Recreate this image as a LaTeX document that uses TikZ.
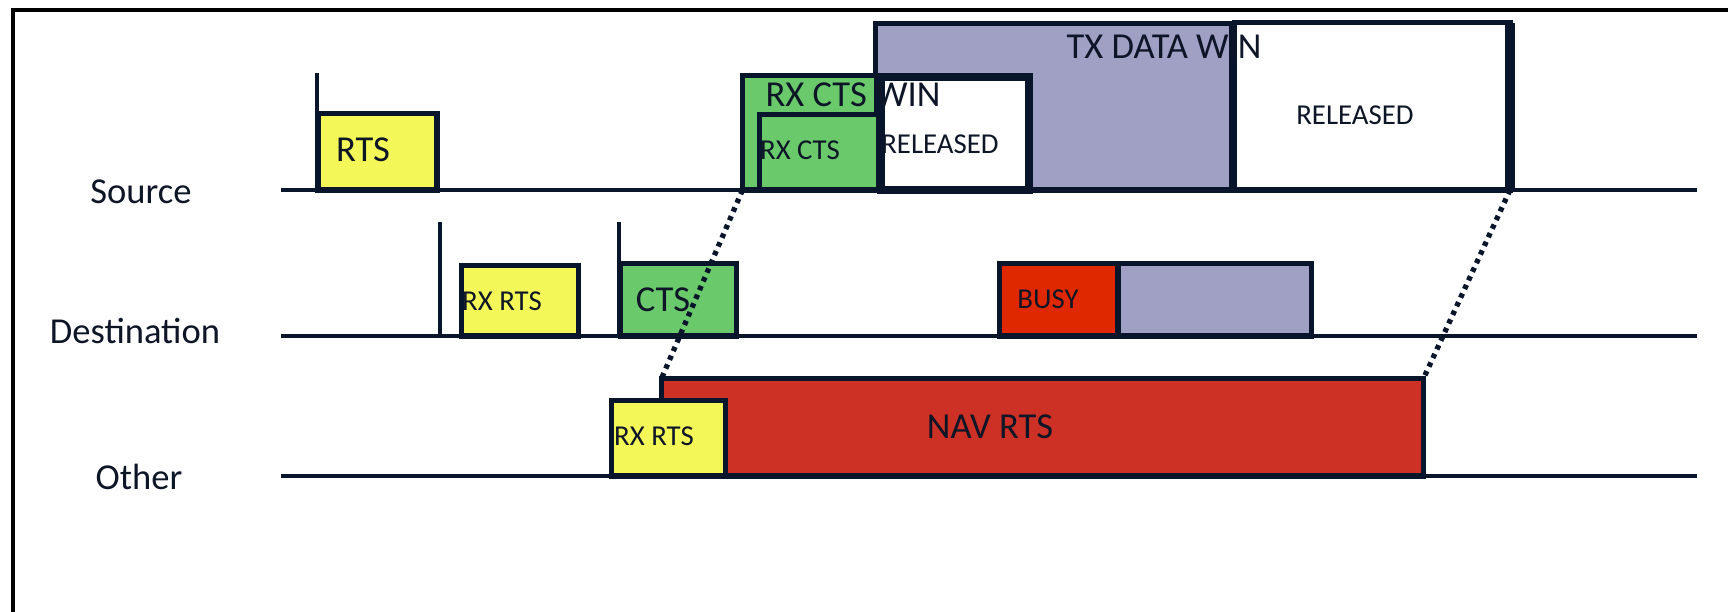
\documentclass[tikz,border=0pt]{standalone}
\usepackage{fontspec}
\setmainfont{Carlito}
\usetikzlibrary{calc}

\definecolor{navy}{HTML}{08152B}
\definecolor{ink}{HTML}{0D1526}
\definecolor{rtsyellow}{HTML}{F3F757}
\definecolor{ctsgreen}{HTML}{69C96B}
\definecolor{datapurple}{HTML}{A09FC4}
\definecolor{busyred}{HTML}{E02800}
\definecolor{navred}{HTML}{CD3024}

\begin{document}
\begin{tikzpicture}[
  x=1cm,y=1cm,
  frame/.style={line width=1.3pt, draw=black},
  timeline/.style={line width=1.4pt, draw=navy},
  tick/.style={line width=1pt, draw=navy},
  slot/.style={rectangle, draw=navy, line width=1.5pt, inner sep=0pt, outer sep=0pt, anchor=south west},
  bigtext/.style={font=\fontsize{10.4}{12}\selectfont, text=ink, inner sep=0pt},
  smalltext/.style={font=\fontsize{8.2}{10}\selectfont, text=ink, inner sep=0pt},
  navlink/.style={line width=1.5pt, draw=navy, dash pattern=on 1.3pt off 1.4pt}
]
\useasboundingbox (0,0) rectangle (17.28,-6.11);

% Outer frame (cut by the page on the right and at the bottom)
\draw[frame] (0.13,-6.4) -- (0.13,-0.10) -- (17.6,-0.10);

% Time lines
\coordinate (srcL) at (2.81,-1.90);
\coordinate (srcR) at (16.97,-1.90);
\coordinate (dstL) at (2.81,-3.36);
\coordinate (dstR) at (16.97,-3.36);
\coordinate (othL) at (2.81,-4.76);
\coordinate (othR) at (16.97,-4.76);

\node[bigtext] (source) at (1.41,-1.92) {Source};
\node[bigtext] (destination) at (1.35,-3.31) {Destination};
\node[bigtext] (other) at (1.39,-4.77) {Other};

% Source: data window and its released part
\node[slot, fill=datapurple, minimum width=3.565cm, minimum height=1.665cm] (txdata) at (8.755,-1.90) {};
\node[slot, fill=white, minimum width=2.755cm, minimum height=1.675cm] (relbig) at (12.345,-1.90) {};
\draw[line width=2.8pt, draw=navy] (relbig.north east) -- (relbig.south east);

% Source: CTS window
\node[slot, fill=ctsgreen, minimum width=1.345cm, minimum height=1.145cm] (ctswin) at (7.425,-1.90) {};
\node[slot, fill=white, line width=2.3pt, minimum width=1.48cm, minimum height=1.13cm] (relsmall) at (8.81,-1.90) {};
\node[slot, fill=ctsgreen, minimum width=1.195cm, minimum height=0.755cm] (rxcts) at (7.595,-1.90) {};

% Source: RTS
\node[slot, fill=rtsyellow, minimum width=1.19cm, minimum height=0.765cm] (rts) at (3.18,-1.90) {};
\draw[tick] (3.17,-0.73) -- (3.17,-1.90);

% Destination
\draw[tick] (4.40,-2.22) -- (4.40,-3.36);
\draw[tick] (6.19,-2.22) -- (6.19,-3.36);
\node[slot, fill=rtsyellow, minimum width=1.17cm, minimum height=0.705cm] (rxrtsD) at (4.615,-3.36) {};
\node[slot, fill=ctsgreen, minimum width=1.16cm, minimum height=0.725cm] (cts) at (6.205,-3.36) {};
\node[slot, fill=busyred, minimum width=1.185cm, minimum height=0.725cm] (busy) at (9.995,-3.36) {};
\node[slot, fill=datapurple, minimum width=1.935cm, minimum height=0.725cm] (rxdata) at (11.18,-3.36) {};

% Other
\node[slot, fill=navred, minimum width=7.62cm, minimum height=0.975cm] (nav) at (6.615,-4.76) {};
\node[slot, fill=rtsyellow, minimum width=1.14cm, minimum height=0.755cm] (rxrtsO) at (6.115,-4.76) {};

% Time lines on top of the slot bottoms
\draw[timeline] (srcL) -- (srcR);
\draw[timeline] (dstL) -- (dstR);
\draw[timeline] (othL) -- (othR);

% Labels
\node[bigtext] (rtslabel) at (3.63,-1.50) {RTS};
\node[smalltext] (rxrtsDlabel) at (5.02,-3.01) {RX RTS};
\node[bigtext] (ctslabel) at (6.63,-3.00) {CTS};
\node[smalltext] (busylabel) at (10.48,-2.99) {BUSY};
\node[smalltext] (rxrtsOlabel) at (6.54,-4.36) {RX RTS};
\node[bigtext] (navlabel) at (9.90,-4.27) {NAV RTS};
\node[bigtext] (ctswinlabel) at (8.53,-0.95) {RX CTS WIN};
\node[smalltext] (rxctslabel) at (8.00,-1.50) {RX CTS};
\node[smalltext] (relsmalllabel) at (9.40,-1.44) {RELEASED};
\node[bigtext] (txdatalabel) at (11.64,-0.47) {TX DATA WIN};
\node[smalltext] (relbiglabel) at (13.55,-1.15) {RELEASED};

% NAV span projected from the source windows
\draw[navlink] (ctswin.south west) -- (nav.north west);
\draw[navlink] (relbig.south east) -- (nav.north east);

\end{tikzpicture}
\end{document}
